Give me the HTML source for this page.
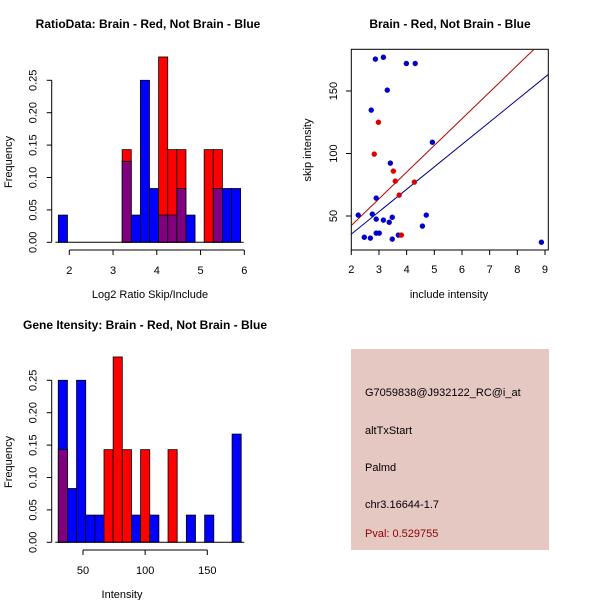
<!DOCTYPE html>
<html><head><meta charset="utf-8"><style>
body{margin:0;background:#fff}
svg{display:block;font-family:"Liberation Sans",sans-serif}
</style></head><body>
<svg id="s" width="600" height="600" xmlns="http://www.w3.org/2000/svg">
<rect x="0" y="0" width="600" height="600" fill="#fff"/>
<text x="148" y="28" font-size="12" font-weight="bold" text-anchor="middle">RatioData: Brain - Red, Not Brain - Blue</text>
<text x="450" y="28" font-size="12" font-weight="bold" text-anchor="middle">Brain - Red, Not Brain - Blue</text>
<text x="145" y="329" font-size="12" font-weight="bold" text-anchor="middle">Gene Itensity: Brain - Red, Not Brain - Blue</text>
<text x="150" y="298" font-size="11" text-anchor="middle">Log2 Ratio Skip/Include</text>
<text x="12" y="162" font-size="11" text-anchor="middle" transform="rotate(-90 12 162)">Frequency</text>
<text x="449" y="298" font-size="11" text-anchor="middle">include intensity</text>
<text x="311" y="150" font-size="11" text-anchor="middle" transform="rotate(-90 311 150)">skip intensity</text>
<text x="122" y="598" font-size="11" text-anchor="middle">Intensity</text>
<text x="12" y="462" font-size="11" text-anchor="middle" transform="rotate(-90 12 462)">Frequency</text>
<g>
<rect x="351" y="349" width="198" height="201" fill="#E6C8C2"/>
<text x="365" y="396" font-size="11" fill="#000">G7059838@J932122_RC@i_at</text>
<text x="365" y="434" font-size="11" fill="#000">altTxStart</text>
<text x="365" y="471" font-size="11" fill="#000">Palmd</text>
<text x="365" y="508" font-size="11" fill="#000">chr3.16644-1.7</text>
<text x="365" y="537" font-size="11" fill="#8B0000">Pval: 0.529755</text>
</g>
<g id="h1"></g><g id="sc"></g><g id="h2"></g>
</svg>
<script>
// Histogram 1 data (log2 ratio)
const ratioStart = 1.75, ratioBinWidth = 0.2083;
const ratioBlue = [0.042,0,0,0,0,0,0,0.125,0.042,0.25,0.083,0.042,0.042,0.083,0.042,0,0,0.083,0.083,0.083];
const ratioRed  = [0,0,0,0,0,0,0,0.143,0,0,0,0.286,0.143,0.143,0,0,0.143,0.143,0,0];
const ratioXTicks = [2,3,4,5,6];
const freqTicks = ["0.00","0.05","0.10","0.15","0.20","0.25"];
// Histogram 2 data (intensity)
const intStart = 30.1, intBinWidth = 7.36;
const intBlue = [0.25,0.083,0.25,0.042,0.042,0,0,0,0.042,0,0.042,0,0,0,0.042,0,0.042,0,0,0.167];
const intRed  = [0.143,0,0,0,0,0.143,0.286,0.143,0,0.143,0,0,0.143,0,0,0,0,0,0,0];
const intXTicks = [50,100,150];
// Scatter data
const blueX = [2.87,3.16,3.99,4.31,3.30,2.72,4.93,3.41,2.90,2.25,2.76,2.90,3.16,3.48,3.37,4.71,4.57,2.90,3.01,2.47,2.69,3.48,3.70,8.87];
const blueY = [175.5,177,172,172,150.7,134.7,109,92.3,64.3,50.7,51.5,47.5,46.7,49,45,50.7,41.9,36.3,36.3,33,32.3,31.5,34.7,29];
const redX = [2.98,2.83,3.52,3.59,4.28,3.73,3.81];
const redY = [125,99.5,85.9,77.9,77.1,66.7,34.7];
const redLine = [-0.3,21.35];
const blueLine = [-0.4,17.94];
const scXTicks = [2,3,4,5,6,7,8,9];
const scYTicks = [50,100,150];

const NS="http://www.w3.org/2000/svg";
function mk(p,t,a){const e=document.createElementNS(NS,t);for(const k in a)e.setAttribute(k,a[k]);p.appendChild(e);return e;}

function hist(g,start,bw,blue,red,sx,sy,axisY,xticks,x0ax,name){
  for(let k=0;k<blue.length;k++){
    const b=blue[k],r=red[k];
    const xl=sx(start+k*bw), xr=sx(start+(k+1)*bw);
    const mx=Math.max(b,r), mn=Math.min(b,r);
    if(mx>0){
      const e=mk(g,'rect',{x:xl,y:sy(mx),width:xr-xl,height:sy(0)-sy(mx),fill:r>=b?'#FF0000':'#0000FF',stroke:'#000','stroke-width':0.8});
      
      
    }
    if(mn>0){
      const e=mk(g,'rect',{x:xl,y:sy(mn),width:xr-xl,height:sy(0)-sy(mn),fill:'#800080',stroke:'#000','stroke-width':0.8});
      
      
    }
  }
  mk(g,'line',{x1:sx(start)-3,x2:sx(start+blue.length*bw)+3,y1:sy(0),y2:sy(0),stroke:'#000'});
  const ya=x0ax;
  mk(g,'line',{x1:ya,x2:ya,y1:sy(0),y2:sy(0.25),stroke:'#000'});
  freqTicks.forEach(t=>{const v=+t,y=sy(v);
    mk(g,'line',{x1:ya-5,x2:ya,y1:y,y2:y,stroke:'#000'});
    const tx=mk(g,'text',{x:ya-15,y:y,'font-size':11,'text-anchor':'middle',transform:`rotate(-90 ${ya-15} ${y})`});
    tx.textContent=t;
    
    
  });
  mk(g,'line',{x1:sx(xticks[0]),x2:sx(xticks[xticks.length-1]),y1:axisY,y2:axisY,stroke:'#000'});
  xticks.forEach(t=>{const x=sx(t);
    mk(g,'line',{x1:x,x2:x,y1:axisY,y2:axisY+5,stroke:'#000'});
    const tx=mk(g,'text',{x:x,y:axisY+24,'font-size':11,'text-anchor':'middle'});
    tx.textContent=t;
    
    
  });
}
const h1=document.getElementById('h1');


hist(h1,ratioStart,ratioBinWidth,ratioBlue,ratioRed,v=>69.3+(v-2)*43.75,v=>242.3-v*648,250,ratioXTicks,51.7,'ratio');
const h2=document.getElementById('h2');


hist(h2,intStart,intBinWidth,intBlue,intRed,v=>83+(v-50)*1.243,v=>542.3-v*648,550,intXTicks,51.7,'intensity');

// scatter
const sc=document.getElementById('sc');


const X=v=>351.3+(v-2)*27.67, Y=v=>278.5-v*1.25;
mk(sc,'rect',{x:351.3,y:49.3,width:197,height:200.7,fill:'none',stroke:'#000'});
mk(sc,'defs',{}).innerHTML='<clipPath id="cp"><rect x="351.3" y="49.3" width="197" height="200.7"/></clipPath>';
const lg=mk(sc,'g',{'clip-path':'url(#cp)'});
[[redLine,'#B00000','red-fit-line'],[blueLine,'#00008B','blue-fit-line']].forEach(([l,c,n])=>{
  const e=mk(lg,'line',{x1:X(1.5),y1:Y(l[0]+l[1]*1.5),x2:X(9.5),y2:Y(l[0]+l[1]*9.5),stroke:c,'stroke-width':1});
  
  
});
blueX.forEach((x,i)=>{const e=mk(lg,'circle',{cx:X(x),cy:Y(blueY[i]),r:2.7,fill:'#0000CC'});
  
  });
redX.forEach((x,i)=>{const e=mk(lg,'circle',{cx:X(x),cy:Y(redY[i]),r:2.7,fill:'#E00000'});
  
  });
scXTicks.forEach(t=>{const x=X(t);
  mk(sc,'line',{x1:x,x2:x,y1:250,y2:255,stroke:'#000'});
  const tx=mk(sc,'text',{x:x,y:273,'font-size':11,'text-anchor':'middle'});tx.textContent=t;
  
  });
scYTicks.forEach(t=>{const y=Y(t);
  mk(sc,'line',{x1:346,x2:351.3,y1:y,y2:y,stroke:'#000'});
  const tx=mk(sc,'text',{x:337,y:y,'font-size':11,'text-anchor':'middle',transform:`rotate(-90 337 ${y})`});tx.textContent=t;
  
  });
</script>
</body></html>
